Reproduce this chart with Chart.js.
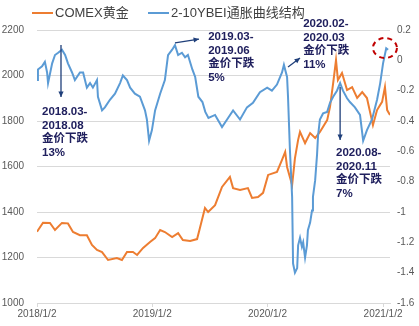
<!DOCTYPE html>
<html>
<head>
<meta charset="utf-8">
<script src="https://cdn.jsdelivr.net/npm/chart.js@4.4.1/dist/chart.umd.min.js"></script>
<style>
  html, body { margin: 0; padding: 0; background: #fff; }
  #wrap { width: 419px; height: 326px; }
</style>
</head>
<body>
<div id="wrap"><canvas id="chart" width="419" height="326"></canvas></div>
<script>
// ---- data ----
const seriesNames = ['COMEX黄金', '2-10YBEI通胀曲线结构'];

const goldDates = [
  '2018-01-02','2018-01-21','2018-02-12','2018-02-28','2018-03-22','2018-04-10','2018-04-26','2018-05-18',
  '2018-06-09','2018-06-25','2018-07-11','2018-07-27','2018-08-15','2018-09-12','2018-09-28','2018-10-14',
  '2018-11-02','2018-11-15','2018-12-04','2018-12-26','2019-01-11','2019-01-27','2019-02-11','2019-03-06',
  '2019-03-25','2019-04-09','2019-05-02','2019-05-24','2019-06-02','2019-06-18','2019-06-28','2019-07-20',
  '2019-08-11','2019-09-05','2019-09-15','2019-10-07','2019-11-01','2019-11-14','2019-12-03','2019-12-19',
  '2020-01-04','2020-02-01','2020-02-17','2020-02-27','2020-03-04','2020-03-20','2020-03-29','2020-04-08',
  '2020-04-14','2020-04-30','2020-05-16','2020-06-01','2020-06-16','2020-07-09','2020-07-18','2020-07-28',
  '2020-08-06','2020-08-12','2020-08-25','2020-09-10','2020-09-26','2020-10-12','2020-10-28','2020-11-12',
  '2020-12-01','2020-12-14','2020-12-30','2021-01-08','2021-01-15','2021-01-24'
];
const goldValues = [
  1313, 1353, 1352, 1321, 1352, 1350, 1312, 1298,
  1298, 1255, 1233, 1224, 1189, 1198, 1189, 1224,
  1224, 1211, 1242, 1268, 1285, 1321, 1312, 1290,
  1307, 1277, 1273, 1281, 1330, 1418, 1400, 1430,
  1510, 1554, 1505, 1497, 1505, 1462, 1466, 1484,
  1563, 1576, 1629, 1664, 1598, 1519, 1637, 1717,
  1752, 1703, 1747, 1725, 1752, 1804, 1862, 1967,
  2068, 1980, 2011, 1936, 1949, 1901, 1927, 1901,
  1782, 1848, 1884, 1949, 1848, 1826
];

const beiDates = [
  '2018-01-02','2018-01-05','2018-01-18','2018-01-27','2018-02-03','2018-02-06','2018-02-19','2018-02-28',
  '2018-03-10','2018-03-22','2018-04-01','2018-04-10','2018-04-23','2018-05-02','2018-05-18','2018-05-28',
  '2018-06-09','2018-06-19','2018-06-28','2018-07-11','2018-07-14','2018-07-27','2018-08-05','2018-08-21',
  '2018-09-06','2018-09-22','2018-10-01','2018-10-14','2018-10-24','2018-11-08','2018-11-24','2018-12-10',
  '2018-12-16','2018-12-23','2019-01-01','2019-01-11','2019-01-27','2019-02-11','2019-02-21','2019-03-06',
  '2019-03-15','2019-03-25','2019-04-06','2019-04-16','2019-04-25','2019-05-09','2019-05-18','2019-05-28',
  '2019-06-10','2019-06-19','2019-06-29','2019-07-20','2019-08-11','2019-08-27','2019-09-15','2019-10-07',
  '2019-10-29','2019-11-17','2019-12-09','2020-01-01','2020-01-16','2020-02-01','2020-02-17','2020-02-23',
  '2020-03-04','2020-03-07','2020-03-13','2020-03-20','2020-03-23','2020-03-29','2020-04-05','2020-04-08',
  '2020-04-14','2020-04-20','2020-04-24','2020-04-30','2020-05-06','2020-05-09','2020-05-16','2020-05-22',
  '2020-05-25','2020-06-01','2020-06-07','2020-06-10','2020-06-16','2020-06-26','2020-07-09','2020-07-18',
  '2020-07-28','2020-08-09','2020-08-19','2020-08-28','2020-09-10','2020-09-19','2020-10-05','2020-10-21',
  '2020-10-31','2020-11-12','2020-11-28','2020-12-14','2020-12-24','2021-01-02','2021-01-12','2021-01-18'
];
const beiValues = [
  -0.13, -0.06, -0.04, -0.01, -0.08, -0.15, -0.02, 0.035,
  0.05, 0.07, 0.035, -0.02, -0.08, -0.13, -0.08, -0.08,
  -0.18, -0.15, -0.18, -0.13, -0.24, -0.33, -0.31, -0.26,
  -0.22, -0.15, -0.10, -0.13, -0.18, -0.22, -0.24, -0.33,
  -0.39, -0.53, -0.46, -0.33, -0.22, -0.13, 0.035, 0.07,
  0.10, 0.035, 0.05, 0.02, 0.035, -0.06, -0.11, -0.24,
  -0.275, -0.34, -0.38, -0.36, -0.44, -0.39, -0.33, -0.39,
  -0.31, -0.28, -0.21, -0.18, -0.20, -0.16, -0.08, -0.03,
  -0.11, -0.24, -0.59, -0.90, -1.34, -1.40, -1.37, -1.22,
  -1.17, -1.23, -1.20, -1.30, -1.22, -1.12, -1.07, -0.99,
  -0.90, -0.79, -0.62, -0.50, -0.39, -0.35, -0.34, -0.28,
  -0.24, -0.20, -0.15, -0.20, -0.25, -0.275, -0.31, -0.36,
  -0.53, -0.46, -0.39, -0.26, -0.15, -0.02, 0.08, 0.07
];

const tickDates = ['2018-01-02', '2019-01-02', '2020-01-02', '2021-01-02'];
const tickLabels = ['2018/1/2', '2019/1/2', '2020/1/2', '2021/1/2'];
const axisEnd = '2021-01-24';

// callouts: text lines, text anchor [date, gold value], arrow from/to
const notes = [
  { lines: ['2018.03-', '2018.08', '金价下跌', '13%'], at: ['2018-01-18', 1840],
    arrow: [['2018-03-19', 2134], ['2018-03-19', 1906]] },
  { lines: ['2019.03-', '2019.06', '金价下跌', '5%'], at: ['2019-06-28', 2169],
    arrow: [['2019-03-15', 2143], ['2019-05-30', 2160]] },
  { lines: ['2020.02-', '2020.03', '金价下跌', '11%'], at: ['2020-04-24', 2226],
    arrow: [['2020-03-07', 2037], ['2020-04-14', 2077]] },
  { lines: ['2020.08-', '2020.11', '金价下跌', '7%'], at: ['2020-08-06', 1659],
    arrow: [['2020-08-19', 1949], ['2020-08-19', 1717]] }
];
const ringAt = ['2021-01-08', 2121];

// ---- helpers ----
const base = Date.UTC(2018, 0, 2);
function dayOf(s) {
  const p = s.split('-').map(Number);
  return (Date.UTC(p[0], p[1] - 1, p[2]) - base) / 86400000;
}
const tickDays = tickDates.map(dayOf);

const FONT = '"Liberation Sans", Arial, "Noto Sans CJK SC", sans-serif';
const GOLD = '#ED7D31';
const BLUE = '#5B9BD5';

function arrowHead(ctx, x0, y0, x1, y1, size) {
  const a = Math.atan2(y1 - y0, x1 - x0);
  ctx.beginPath();
  ctx.moveTo(x1, y1);
  ctx.lineTo(x1 - size * Math.cos(a - 0.45), y1 - size * Math.sin(a - 0.45));
  ctx.lineTo(x1 - size * Math.cos(a + 0.45), y1 - size * Math.sin(a + 0.45));
  ctx.closePath();
  ctx.fill();
}

const overlay = {
  id: 'overlay',
  afterDraw(chart) {
    const ctx = chart.ctx;
    const xs = chart.scales.x, ys = chart.scales.y;
    ctx.save();

    // legend
    ctx.font = '13px ' + FONT;
    ctx.textBaseline = 'middle';
    ctx.fillStyle = '#404040';
    const items = [[GOLD, 32, seriesNames[0]], [BLUE, 148, seriesNames[1]]];
    items.forEach(([c, x, t]) => {
      ctx.strokeStyle = c;
      ctx.lineWidth = 2;
      ctx.beginPath();
      ctx.moveTo(x, 13);
      ctx.lineTo(x + 21, 13);
      ctx.stroke();
      ctx.fillText(t, x + 23, 13);
    });

    // callouts
    notes.forEach(n => {
      const ax0 = xs.getPixelForValue(dayOf(n.arrow[0][0])), ay0 = ys.getPixelForValue(n.arrow[0][1]);
      const ax1 = xs.getPixelForValue(dayOf(n.arrow[1][0])), ay1 = ys.getPixelForValue(n.arrow[1][1]);
      ctx.strokeStyle = '#1F3F7A';
      ctx.fillStyle = '#1F3F7A';
      ctx.lineWidth = 1.3;
      ctx.beginPath();
      ctx.moveTo(ax0, ay0);
      ctx.lineTo(ax1, ay1);
      ctx.stroke();
      arrowHead(ctx, ax0, ay0, ax1, ay1, 6);

      const tx = xs.getPixelForValue(dayOf(n.at[0])), ty = ys.getPixelForValue(n.at[1]);
      ctx.fillStyle = '#20205E';
      ctx.font = 'bold 11.5px ' + FONT;
      ctx.textAlign = 'left';
      ctx.textBaseline = 'middle';
      n.lines.forEach((l, i) => ctx.fillText(l, tx, ty + i * 13.5));
    });

    // dashed red ring
    const rx = xs.getPixelForValue(dayOf(ringAt[0])), ry = ys.getPixelForValue(ringAt[1]);
    ctx.strokeStyle = '#C00000';
    ctx.lineWidth = 2;
    ctx.setLineDash([5, 4]);
    ctx.beginPath();
    ctx.ellipse(rx, ry, 12, 10, 0, 0, Math.PI * 2);
    ctx.stroke();
    ctx.restore();
  }
};

const tickFont = { family: FONT, size: 10 };

new Chart(document.getElementById('chart'), {
  type: 'line',
  data: {
    datasets: [
      {
        label: seriesNames[0],
        data: goldDates.map((d, i) => ({ x: dayOf(d), y: goldValues[i] })),
        yAxisID: 'y',
        borderColor: GOLD,
        borderWidth: 2,
        pointRadius: 0,
        order: 1
      },
      {
        label: seriesNames[1],
        data: beiDates.map((d, i) => ({ x: dayOf(d), y: beiValues[i] })),
        yAxisID: 'y1',
        borderColor: BLUE,
        borderWidth: 2,
        pointRadius: 0,
        order: 0
      }
    ]
  },
  options: {
    responsive: false,
    animation: false,
    devicePixelRatio: 1,
    layout: { padding: { top: 30, left: 0, right: 0, bottom: 0 } },
    plugins: { legend: { display: false }, tooltip: { enabled: false } },
    scales: {
      x: {
        type: 'linear',
        min: 0,
        max: dayOf(axisEnd),
        afterBuildTicks: s => { s.ticks = tickDays.map(v => ({ value: v })); },
        afterFit: s => { s.height = 23; },
        ticks: {
          callback: (v, i) => tickLabels[i],
          autoSkip: false,
          maxRotation: 0,
          padding: 1,
          color: '#595959',
          font: tickFont
        },
        grid: { drawOnChartArea: false, drawTicks: true, tickLength: 4, color: '#D9D9D9' },
        border: { display: true, color: '#D9D9D9' }
      },
      y: {
        position: 'left',
        min: 1000,
        max: 2200,
        afterFit: s => { s.width = 37; },
        ticks: { stepSize: 200, padding: 13, color: '#595959', font: tickFont, callback: v => String(v) },
        grid: { color: '#D9D9D9', drawTicks: false },
        border: { display: false }
      },
      y1: {
        position: 'right',
        min: -1.6,
        max: 0.2,
        afterFit: s => { s.width = 29; },
        ticks: {
          stepSize: 0.2,
          padding: 7,
          color: '#595959',
          font: tickFont,
          callback: v => String(Math.round(v * 10) / 10)
        },
        grid: { drawOnChartArea: false, drawTicks: false },
        border: { display: false }
      }
    }
  },
  plugins: [overlay]
});
</script>
</body>
</html>
